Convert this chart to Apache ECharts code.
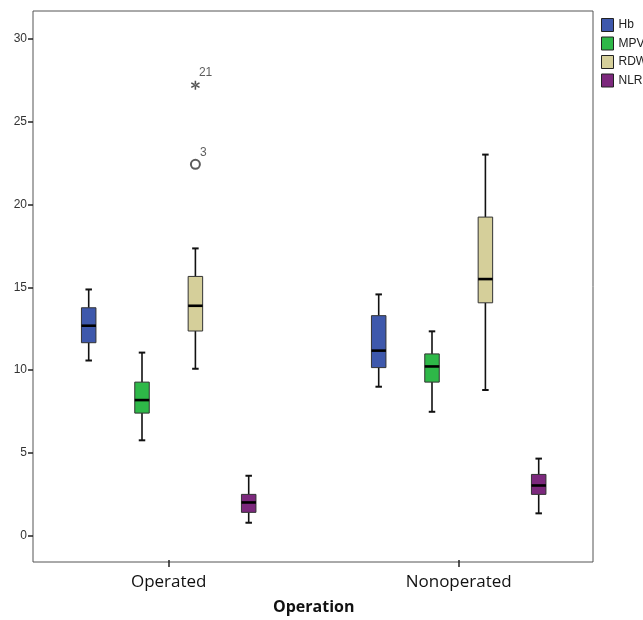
<!DOCTYPE html>
<html>
<head>
<meta charset="utf-8">
<script src="https://cdn.jsdelivr.net/npm/echarts@6/dist/echarts.min.js"></script>
<style>
  html, body { margin: 0; padding: 0; background: #fff; }
  #chart { width: 643px; height: 620px; }
</style>
</head>
<body>
<div id="chart"></div>
<script>
// categories and series, each box = [min, Q1, median, Q3, max]
var categories = ['Operated', 'Nonoperated'];
var seriesNames = ['Hb', 'MPV', 'RDW', 'NLR'];
var hb = [[10.5, 11.58, 12.61, 13.7, 14.81], [8.91, 10.07, 11.1, 13.22, 14.51]];
var mpv = [[5.66, 7.31, 8.1, 9.19, 10.98], [7.39, 9.19, 10.14, 10.9, 12.27]];
var rdw = [[10.0, 12.29, 13.82, 15.6, 17.3], [8.71, 14.0, 15.44, 19.2, 22.99]];
var nlr = [[0.66, 1.29, 1.89, 2.38, 3.51], [1.23, 2.38, 2.92, 3.59, 4.55]];
var yTicks = [0, 5, 10, 15, 20, 25, 30];
// RDW outliers in the Operated group
var extremeValues = [27.2];
var extremeCases = ['21'];
var outlierValues = [22.4];
var outlierCases = ['3'];

var colors = ['#3e58ac', '#2eb848', '#d5cf9a', '#7c287d'];
var offsets = [-80, -26.7, 26.7, 80];
var boxW = 14.5;
var capW = 6.5;

var chart = echarts.init(document.getElementById('chart'));

function makeRender(offset, color) {
  return function (params, api) {
    var cat = api.value(0);
    var ys = [1, 2, 3, 4, 5].map(function (d) {
      return api.coord([cat, api.value(d)])[1];
    });
    var x = api.coord([cat, api.value(1)])[0] + offset;
    var ls = { stroke: '#111', lineWidth: 1.6 };
    return {
      type: 'group',
      children: [
        { type: 'line', shape: { x1: x, y1: ys[0], x2: x, y2: ys[1] }, style: ls },
        { type: 'line', shape: { x1: x, y1: ys[3], x2: x, y2: ys[4] }, style: ls },
        { type: 'line', shape: { x1: x - capW / 2, y1: ys[0], x2: x + capW / 2, y2: ys[0] }, style: { stroke: '#111', lineWidth: 2 } },
        { type: 'line', shape: { x1: x - capW / 2, y1: ys[4], x2: x + capW / 2, y2: ys[4] }, style: { stroke: '#111', lineWidth: 2 } },
        { type: 'rect', shape: { x: x - boxW / 2, y: ys[3], width: boxW, height: ys[1] - ys[3] },
          style: { fill: color, stroke: '#333', lineWidth: 1 } },
        { type: 'line', shape: { x1: x - boxW / 2, y1: ys[2], x2: x + boxW / 2, y2: ys[2] },
          style: { stroke: '#000', lineWidth: 2.6 } }
      ]
    };
  };
}

function boxData(arr) {
  return arr.map(function (b, i) { return [i].concat(b); });
}

var boxSeries = [hb, mpv, rdw, nlr].map(function (arr, i) {
  return {
    name: seriesNames[i],
    type: 'custom',
    xAxisIndex: 1,
    yAxisIndex: 1,
    itemStyle: { color: colors[i] },
    encode: { x: 0, y: [1, 2, 3, 4, 5] },
    renderItem: makeRender(offsets[i], colors[i]),
    data: boxData(arr)
  };
});

var asterisk = 'path://M4.2 0L5.8 0L5.8 10L4.2 10Z M0.27 3.2L8.93 8.2L9.73 6.8L1.07 1.8Z M1.07 8.2L9.73 3.2L8.93 1.8L0.27 6.8Z';
var caseLabel = {
  show: true,
  color: '#333',
  fontSize: 12,
  fontFamily: 'Liberation Sans, Arial, sans-serif',
  align: 'left',
  verticalAlign: 'middle',
  formatter: function (p) { return p.value[2]; }
};

var outlierSeries = [
  {
    type: 'scatter',
    xAxisIndex: 1,
    yAxisIndex: 1,
    symbol: asterisk,
    symbolSize: 9,
    symbolOffset: [offsets[2], 0],
    itemStyle: { color: '#222' },
    label: Object.assign({}, caseLabel, { position: [8, -8] }),
    data: extremeValues.map(function (v, i) { return [0, v, extremeCases[i]]; })
  },
  {
    type: 'scatter',
    xAxisIndex: 1,
    yAxisIndex: 1,
    symbol: 'emptyCircle',
    symbolSize: 9,
    symbolOffset: [offsets[2], 0],
    itemStyle: { color: '#333', borderColor: '#333', borderWidth: 1.2 },
    label: Object.assign({}, caseLabel, { position: [10, -6] }),
    data: outlierValues.map(function (v, i) { return [0, v, outlierCases[i]]; })
  }
];

var option = {
  backgroundColor: '#fff',
  animation: false,
  legend: {
    data: seriesNames,
    orient: 'vertical',
    left: 596,
    top: 13,
    itemWidth: 12,
    itemHeight: 13,
    itemGap: 4.5,
    icon: 'rect',
    itemStyle: { borderColor: '#222', borderWidth: 1 },
    textStyle: { fontSize: 12, color: '#222', fontFamily: 'Liberation Sans, Arial, sans-serif' }
  },
  grid: [
    // frame
    { left: 33, right: 50, top: 11, bottom: 58, show: true, borderColor: '#555', borderWidth: 1, backgroundColor: 'transparent' },
    // data area (wider so group centres sit where they are in the reference)
    { left: 23.7, right: 39.3, top: 11, bottom: 58 }
  ],
  xAxis: [
    { gridIndex: 0, type: 'value', min: 0, max: 1, show: false },
    {
      gridIndex: 1,
      type: 'category',
      data: categories,
      axisLine: { show: false, onZero: false },
      axisTick: { show: true, alignWithLabel: true, length: 7, lineStyle: { color: '#222', width: 1.5 } },
      axisLabel: { margin: 14, fontSize: 17, color: '#111', fontFamily: 'Open Sans, sans-serif' },
      name: 'Operation',
      nameLocation: 'middle',
      nameGap: 39,
      nameTextStyle: { fontSize: 16, fontWeight: 'bold', color: '#111', fontFamily: 'Open Sans, sans-serif' },
      splitLine: { show: false }
    }
  ],
  yAxis: [
    {
      gridIndex: 0,
      type: 'value',
      min: -1.6,
      max: 31.7,
      axisLine: { show: false },
      axisTick: { show: true, length: 5, customValues: yTicks, lineStyle: { color: '#222', width: 1.5 } },
      axisLabel: { margin: 6, fontSize: 12, color: '#333', customValues: yTicks, fontFamily: 'Liberation Sans, Arial, sans-serif' },
      splitLine: { show: false }
    },
    { gridIndex: 1, type: 'value', min: -1.6, max: 31.7, show: false }
  ],
  series: boxSeries.concat(outlierSeries)
};

chart.setOption(option);
</script>
</body>
</html>
